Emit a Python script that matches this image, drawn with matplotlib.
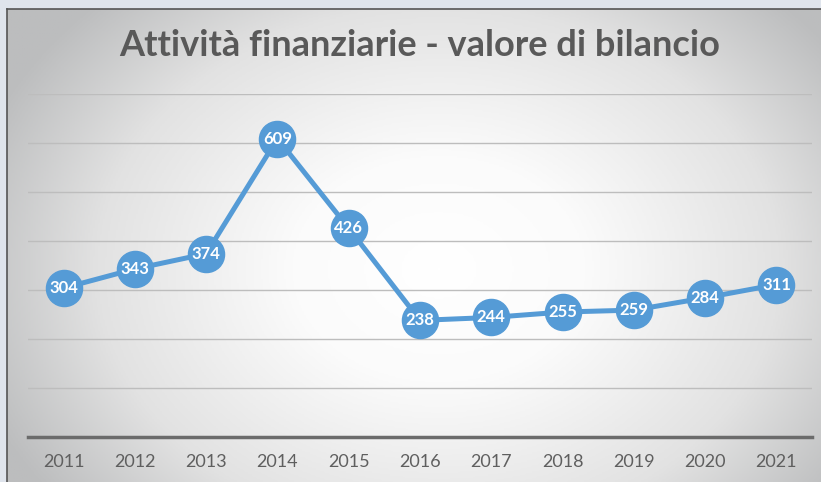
import numpy as np
import matplotlib.pyplot as plt
import matplotlib as mpl

mpl.rcParams['font.family'] = ['Lato', 'DejaVu Sans']

years = ['2011', '2012', '2013', '2014', '2015', '2016', '2017', '2018', '2019', '2020', '2021']
values = [304, 343, 374, 609, 426, 238, 244, 255, 259, 284, 311]
title = 'Attività finanziarie - valore di bilancio'

W, H = 821, 482
fig = plt.figure(figsize=(W / 100, H / 100), dpi=100)
fig.patch.set_facecolor('#dfe4ec')

# chart area with radial gradient
bg = fig.add_axes([7 / W, 0, 1 - 7 / W, (H - 9) / H])
yy, xx = np.mgrid[0:1:300j, 0:1:500j]
d = np.sqrt(((xx - 0.53) / 0.60) ** 2 + ((yy - 0.55) / 0.80) ** 2)
d = np.clip(d, 0, 1)
cmap = mpl.colors.LinearSegmentedColormap.from_list(
    'g', [(0, '#ffffff'), (0.3, '#fbfbfb'), (0.7, '#e2e2e2'), (1, '#bcbdbe')])
bg.imshow(d, cmap=cmap, aspect='auto', extent=[0, 1, 0, 1], vmin=0, vmax=1)
bg.set_xticks([])
bg.set_yticks([])
for s in ['right', 'bottom']:
    bg.spines[s].set_visible(False)
for s in ['top', 'left']:
    bg.spines[s].set_color('#555555')
    bg.spines[s].set_linewidth(1.2)

ax = fig.add_axes([28 / W, (H - 437) / H, (812 - 28) / W, (437 - 94) / H])
ax.set_facecolor('none')
x = np.arange(len(years))
ax.set_xlim(-0.5, len(years) - 0.5)
ax.set_ylim(0, 700)
ax.set_yticks(range(0, 701, 100))
ax.yaxis.grid(True, color='#bdbdbd', linewidth=1)
ax.set_axisbelow(True)
for s in ['top', 'left', 'right']:
    ax.spines[s].set_visible(False)
ax.spines['bottom'].set_color('#6b6b6b')
ax.spines['bottom'].set_linewidth(2.5)
ax.tick_params(axis='y', length=0, labelleft=False)
ax.tick_params(axis='x', length=0, pad=12, labelsize=13, labelcolor='#5f5f5f')
ax.set_xticks(x)
ax.set_xticklabels(years)

ax.plot(x, values, color='#559bd6', linewidth=3.6, marker='o', markersize=26,
        markerfacecolor='#559bd6', markeredgecolor='#559bd6', clip_on=False, zorder=3)
for xi, v in zip(x, values):
    ax.text(xi, v, str(v), ha='center', va='center', color='white',
            fontsize=12, fontweight='bold', zorder=4)

fig.text(420 / W, 1 - 45 / H, title, ha='center', va='center', fontsize=26,
         fontweight='bold', color='#595959')

fig.savefig('out.png', dpi=100)
